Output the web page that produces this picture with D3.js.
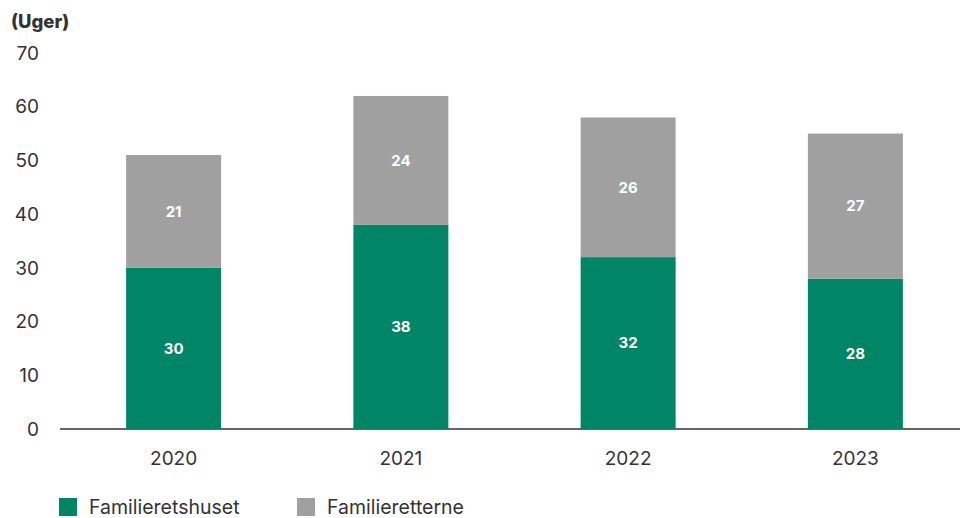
<!DOCTYPE html>
<html><head><meta charset="utf-8">
<script src="https://cdn.jsdelivr.net/npm/d3@7"></script>
<style>body{margin:0;background:#fff;} svg{display:block;font-family:Inter,"Liberation Sans",Arial,sans-serif;}</style>
</head><body>
<svg id="c" width="960" height="518"></svg>
<script>
const years = ["2020","2021","2022","2023"];
const familieretshuset = [30,38,32,28];
const familieretterne = [21,24,26,27];
const yTicks = [0,10,20,30,40,50,60,70];
const seriesNames = ["Familieretshuset","Familieretterne"];
const colors = ["#008566","#a0a0a0"];

const svg = d3.select("#c");
const x = d3.scaleBand().domain(years).range([60,969]).paddingInner(0.582).paddingOuter(0.291);
const y = d3.scaleLinear().domain([0,70]).range([429,53]);

const data = years.map((yr,i)=>({year:yr, a:familieretshuset[i], b:familieretterne[i]}));
const stack = d3.stack().keys(["a","b"])(data);

svg.append("line").attr("x1",60).attr("x2",960).attr("y1",y(0)).attr("y2",y(0)).attr("stroke","#333").attr("stroke-width",1.5);

svg.append("g").selectAll("text").data(yTicks).join("text")
  .attr("x",39).attr("y",d=>y(d)).attr("dy","0.35em").attr("text-anchor","end")
  .attr("font-size",19).attr("fill","#333").text(d=>d);

svg.append("text").attr("x",11).attr("y",28).attr("font-size",18.5).attr("font-weight","800").attr("fill","#333").text("(Uger)");

stack.forEach((s,si)=>{
  const g = svg.append("g");
  g.selectAll("rect").data(s).join("rect")
    .attr("x",d=>x(d.data.year)).attr("width",x.bandwidth())
    .attr("y",d=>y(d[1])).attr("height",d=>y(d[0])-y(d[1]))
    .attr("fill",colors[si]);
  g.selectAll("text").data(s).join("text")
    .attr("x",d=>x(d.data.year)+x.bandwidth()/2)
    .attr("y",d=>(y(d[0])+y(d[1]))/2).attr("dy","0.35em")
    .attr("text-anchor","middle").attr("font-size",15).attr("font-weight","bold").attr("fill","#fff")
    .text(d=>d[1]-d[0]);
});

svg.append("g").selectAll("text").data(years).join("text")
  .attr("x",d=>x(d)+x.bandwidth()/2).attr("y",458).attr("dy","0.35em").attr("text-anchor","middle")
  .attr("font-size",19).attr("fill","#333").text(d=>d);

const legX = [59,297];
const lg = svg.append("g").selectAll("g").data(seriesNames).join("g")
  .attr("transform",(d,i)=>`translate(${legX[i]},498)`);
lg.append("rect").attr("width",18).attr("height",18).attr("fill",(d,i)=>colors[i]);
lg.append("text").attr("x",30).attr("y",9).attr("dy","0.35em").attr("font-size",19.5).attr("fill","#333").text(d=>d);
</script>
</body></html>
